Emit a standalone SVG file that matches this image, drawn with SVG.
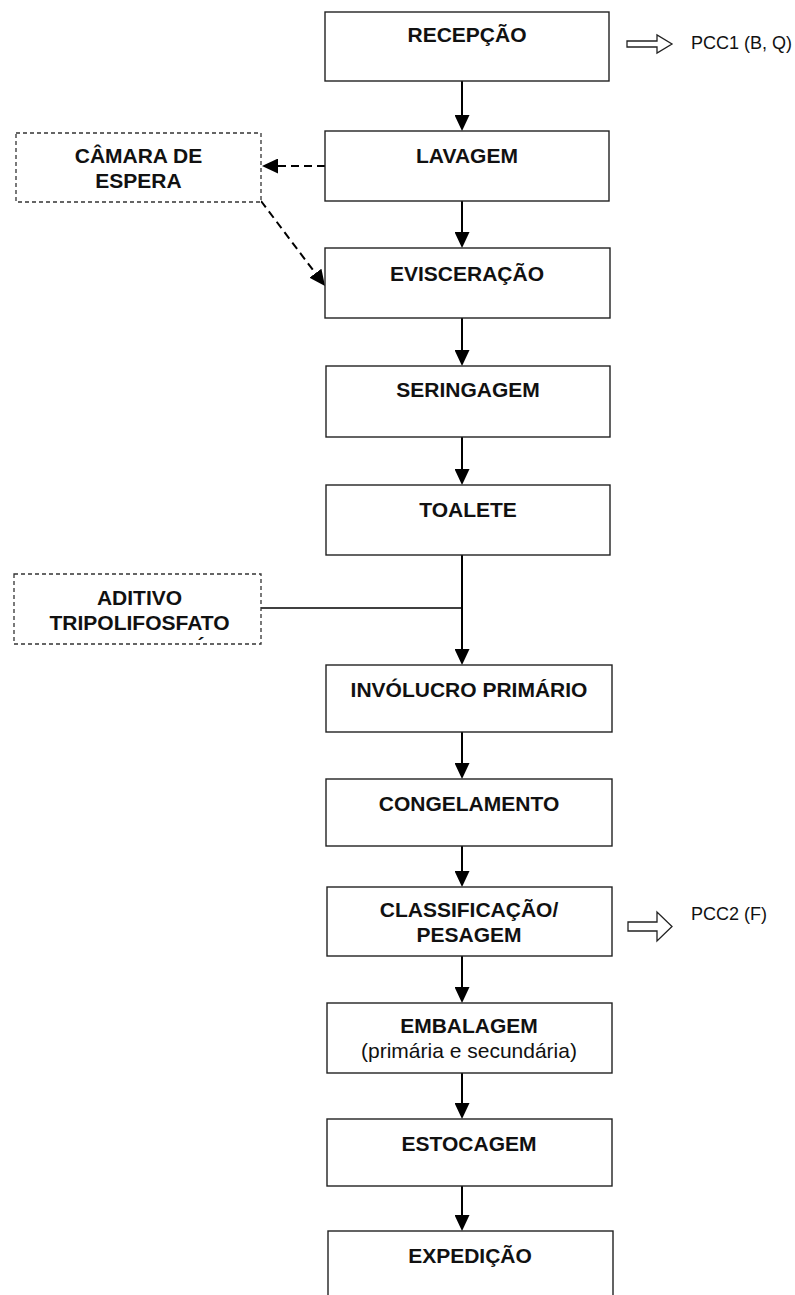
<svg xmlns="http://www.w3.org/2000/svg" width="795" height="1295" viewBox="0 0 795 1295">
  <style>
    .box { fill: #ffffff; stroke: #222222; stroke-width: 1.4; }
    .dbox { fill: #ffffff; stroke: #333333; stroke-width: 1.3; stroke-dasharray: 4 3; }
    .lbl { font-family: "Liberation Sans", Arial, sans-serif; font-size: 21px; font-weight: bold; fill: #111111; text-anchor: middle; }
    .sub { font-family: "Liberation Sans", Arial, sans-serif; font-size: 21px; fill: #111111; text-anchor: middle; }
    .pcc { font-family: "Liberation Sans", Arial, sans-serif; font-size: 18px; fill: #111111; }
    .flow { stroke: #000000; stroke-width: 2; fill: none; marker-end: url(#head); }
    .dash { stroke: #000000; stroke-width: 2; fill: none; stroke-dasharray: 8 5; marker-end: url(#head); }
    .join { stroke: #000000; stroke-width: 1.4; fill: none; }
    .block { fill: #ffffff; stroke: #222222; stroke-width: 1.3; }
  </style>
  <defs>
    <marker id="head" markerUnits="userSpaceOnUse" markerWidth="17" markerHeight="15" refX="1" refY="7.5" orient="auto">
      <path d="M0,0 L16,7.5 L0,15 Z" fill="#000000"/>
    </marker>
  </defs>

  <rect width="795" height="1295" fill="#ffffff"/>

  <!-- connectors -->
  <g id="connectors">
    <line class="flow" x1="462" y1="81" x2="462" y2="116"/>
    <line class="flow" x1="462" y1="201" x2="462" y2="233"/>
    <line class="flow" x1="462" y1="318" x2="462" y2="351"/>
    <line class="flow" x1="462" y1="437" x2="462" y2="470"/>
    <line class="flow" x1="462" y1="555" x2="462" y2="650"/>
    <line class="join" x1="261" y1="608" x2="462" y2="608"/>
    <line class="flow" x1="462" y1="732" x2="462" y2="764"/>
    <line class="flow" x1="462" y1="846" x2="462" y2="872"/>
    <line class="flow" x1="462" y1="956" x2="462" y2="988"/>
    <line class="flow" x1="462" y1="1073" x2="462" y2="1104"/>
    <line class="flow" x1="462" y1="1186" x2="462" y2="1216"/>
    <!-- holding chamber loop -->
    <line class="dash" x1="325" y1="166" x2="277" y2="166"/>
    <line class="dash" x1="261" y1="201" x2="316" y2="274"/>
  </g>

  <!-- process steps -->
  <g id="recepcao">
    <rect class="box" x="325" y="12" width="284" height="69"/>
    <text class="lbl" x="467" y="42">RECEPÇÃO</text>
  </g>
  <g id="lavagem">
    <rect class="box" x="325" y="131" width="284" height="70"/>
    <text class="lbl" x="467" y="163">LAVAGEM</text>
  </g>
  <g id="evisceracao">
    <rect class="box" x="325" y="248" width="285" height="70"/>
    <text class="lbl" x="467" y="281">EVISCERAÇÃO</text>
  </g>
  <g id="seringagem">
    <rect class="box" x="326" y="366" width="284" height="71"/>
    <text class="lbl" x="468" y="397">SERINGAGEM</text>
  </g>
  <g id="toalete">
    <rect class="box" x="326" y="485" width="284" height="70"/>
    <text class="lbl" x="468" y="517">TOALETE</text>
  </g>
  <g id="involucro">
    <rect class="box" x="326" y="665" width="286" height="67"/>
    <text class="lbl" x="469" y="697">INVÓLUCRO PRIMÁRIO</text>
  </g>
  <g id="congelamento">
    <rect class="box" x="326" y="779" width="286" height="67"/>
    <text class="lbl" x="469" y="811">CONGELAMENTO</text>
  </g>
  <g id="classificacao">
    <rect class="box" x="327" y="887" width="285" height="69"/>
    <text class="lbl" x="469" y="917">CLASSIFICAÇÃO/</text>
    <text class="lbl" x="469" y="942">PESAGEM</text>
  </g>
  <g id="embalagem">
    <rect class="box" x="327" y="1003" width="285" height="70"/>
    <text class="lbl" x="469" y="1033">EMBALAGEM</text>
    <text class="sub" x="469" y="1058">(primária e secundária)</text>
  </g>
  <g id="estocagem">
    <rect class="box" x="327" y="1119" width="285" height="67"/>
    <text class="lbl" x="469" y="1151">ESTOCAGEM</text>
  </g>
  <g id="expedicao">
    <rect class="box" x="328" y="1231" width="285" height="75"/>
    <text class="lbl" x="470" y="1263">EXPEDIÇÃO</text>
  </g>

  <!-- side inputs -->
  <g id="camara-espera">
    <rect class="dbox" x="16" y="133" width="245" height="69"/>
    <text class="lbl" x="138.5" y="163">CÂMARA DE</text>
    <text class="lbl" x="138.5" y="188">ESPERA</text>
  </g>
  <g id="aditivo">
    <rect class="dbox" x="14" y="574" width="247" height="70"/>
    <text class="lbl" x="139.5" y="605">ADITIVO</text>
    <text class="lbl" x="139.5" y="630">TRIPOLIFOSFATO</text>
    <text class="lbl" x="201" y="652">´</text>
  </g>

  <!-- critical control points -->
  <g id="pcc1">
    <path class="block" d="M627,41 H657 V35 L672,44 L657,53 V47 H627 Z"/>
    <text class="pcc" x="691" y="49">PCC1 (B, Q)</text>
  </g>
  <g id="pcc2">
    <path class="block" d="M628,922 H657 V912 L672,926.5 L657,941 V931 H628 Z"/>
    <text class="pcc" x="691" y="920">PCC2 (F)</text>
  </g>
</svg>
